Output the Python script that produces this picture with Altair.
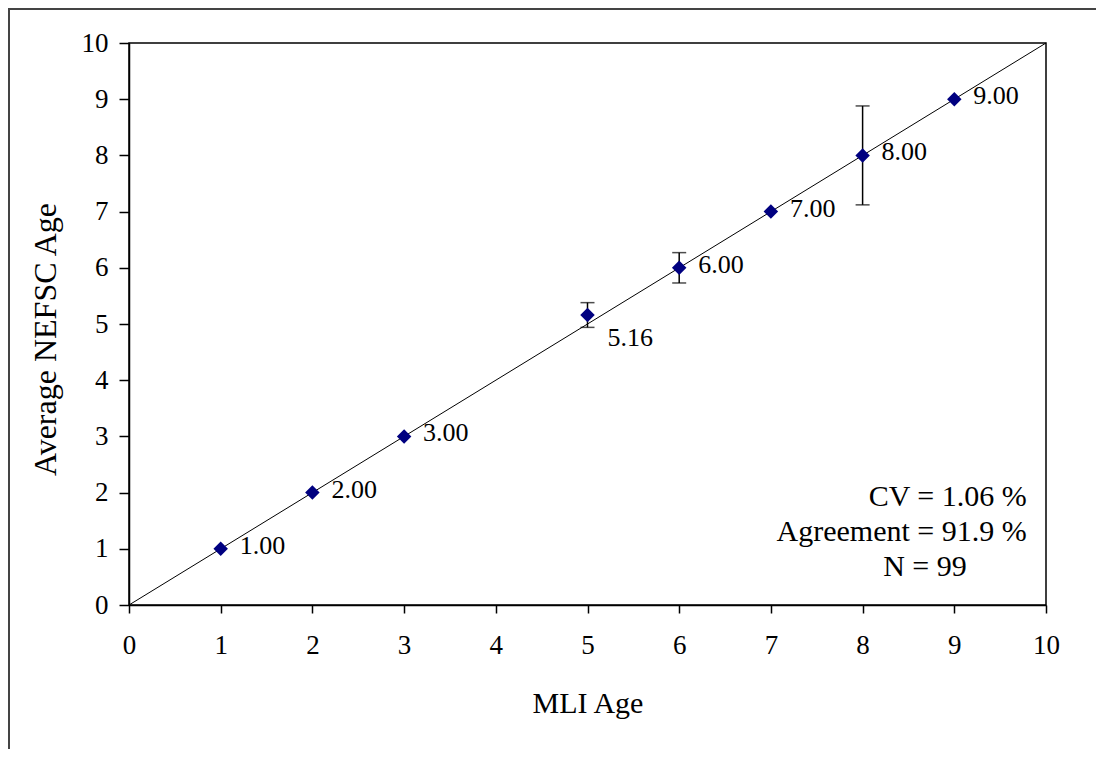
import altair as alt
import pandas as pd

# Data
mli_age = [1, 2, 3, 5, 6, 7, 8, 9]
nefsc_avg = [1.00, 2.00, 3.00, 5.16, 6.00, 7.00, 8.00, 9.00]
err_half = [0.0, 0.0, 0.0, 0.22, 0.27, 0.0, 0.88, 0.0]
diag_x = [0, 10]
diag_y = [0, 10]
stat_lines = ["CV = 1.06 %", "Agreement = 91.9 %", "N = 99"]

df = pd.DataFrame({"x": mli_age, "y": nefsc_avg, "e": err_half})
df["lo"] = df["y"] - df["e"]
df["hi"] = df["y"] + df["e"]
df["label"] = df["y"].map(lambda v: f"{v:.2f}")
err_df = df[df["e"] > 0].copy()
diag_df = pd.DataFrame({"x": diag_x, "y": diag_y})

FONT = "Liberation Serif"

xs = alt.Scale(domain=[0, 10], nice=False, zero=True)
ys = alt.Scale(domain=[0, 10], nice=False, zero=True)

x_axis = alt.Axis(title="MLI Age", values=list(range(0, 11)), format="d", grid=False,
                  tickSize=8, labelPadding=19, titleBaseline="alphabetic",
                  titleY=107, labelFlush=False, titleFontSize=30)
y_axis = alt.Axis(title="Average NEFSC Age", values=list(range(0, 11)), format="d",
                  grid=False, tickSize=10, labelPadding=11, titleBaseline="alphabetic",
                  titleX=-74, titleY=296, labelFlush=False, titleFontSize=32)

base = alt.Chart(df)

diag = alt.Chart(diag_df).mark_line(color="black", strokeWidth=1).encode(
    x=alt.X("x:Q", scale=xs, axis=x_axis),
    y=alt.Y("y:Q", scale=ys, axis=y_axis),
)

err_rule = alt.Chart(err_df).mark_rule(color="black", strokeWidth=1.5).encode(
    x="x:Q", y="lo:Q", y2="hi:Q"
)
cap_hi = alt.Chart(err_df).mark_tick(color="black", thickness=1.5, size=14,
                                     orient="horizontal").encode(x="x:Q", y="hi:Q")
cap_lo = alt.Chart(err_df).mark_tick(color="black", thickness=1.5, size=14,
                                     orient="horizontal").encode(x="x:Q", y="lo:Q")

pts = base.mark_point(shape="diamond", filled=True, color="#000080", size=210,
                      opacity=1).encode(x="x:Q", y="y:Q")

labels_main = base.transform_filter(alt.datum.x != 5).mark_text(
    align="left", baseline="middle", dx=19, dy=-3, font=FONT, fontSize=26, color="black"
).encode(x="x:Q", y="y:Q", text="label:N")

labels_low = base.transform_filter(alt.datum.x == 5).mark_text(
    align="left", baseline="middle", dx=20, dy=23, font=FONT, fontSize=26, color="black"
).encode(x="x:Q", y="y:Q", text="label:N")

one = pd.DataFrame({"a": [0]})
stat1 = alt.Chart(one).mark_text(align="right", baseline="middle", font=FONT,
                                 fontSize=30, color="black", text=stat_lines[0]).encode(
    x=alt.datum(9.79), y=alt.datum(1.92))
stat2 = alt.Chart(one).mark_text(align="right", baseline="middle", font=FONT,
                                 fontSize=30, color="black", text=stat_lines[1]).encode(
    x=alt.datum(9.79), y=alt.datum(1.30))
stat3 = alt.Chart(one).mark_text(align="center", baseline="middle", font=FONT,
                                 fontSize=30, color="black", text=stat_lines[2]).encode(
    x=alt.datum(8.68), y=alt.datum(0.68))

# outer chart border (decoration): top and left edges near the svg's corner
outer_frame = alt.Chart(one).mark_rect(fill="transparent", stroke="#444444",
                                       strokeWidth=2).encode(
    x=alt.value(-120), x2=alt.value(1200), y=alt.value(-34), y2=alt.value(900))

chart = alt.layer(
    outer_frame, diag, err_rule, cap_hi, cap_lo, pts, labels_main, labels_low,
    stat1, stat2, stat3
).properties(
    width=917, height=562,
    autosize=alt.AutoSizeParams(type="none"),
    padding={"left": 121, "top": 35, "right": 50, "bottom": 144},
    background="white",
).configure_view(
    stroke="black", strokeWidth=1.5
).configure_axis(
    domainColor="black", domainWidth=1.5, tickColor="black", tickWidth=1.5,
    labelFont=FONT, labelFontSize=27, labelColor="black",
    titleFont=FONT, titleColor="black", titleFontWeight="normal",
)

chart.save("out.html", embed_options={"renderer": "svg", "actions": False})
